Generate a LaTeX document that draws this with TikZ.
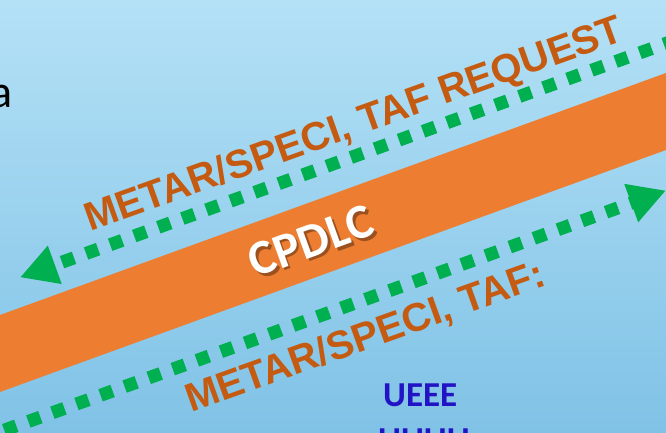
\documentclass[tikz,border=0pt]{standalone}
\usepackage{fontspec}
\setmainfont{Liberation Sans}
\newfontfamily\carlito{Carlito}
\usetikzlibrary{arrows.meta}
\definecolor{bgtop}{RGB}{180,225,246}
\definecolor{bgbot}{RGB}{128,194,230}
\definecolor{bandorange}{HTML}{ED7D31}
\definecolor{txtorange}{HTML}{C55A11}
\definecolor{dotgreen}{HTML}{00B050}
\definecolor{ublue}{RGB}{34,20,196}
\tikzset{
  dotline/.style={draw=dotgreen, line width=13pt, line cap=butt,
    dash pattern=on 12.8pt off 12.8pt,
    -{Triangle[length=37pt,width=38pt]}},
  lbl/.style={font=\bfseries\fontsize{39.8}{40}\selectfont, text=txtorange,
    inner sep=0pt, anchor=base west, rotate=19.7},
  cpd/.style={font=\carlito\bfseries\fontsize{49}{49}\selectfont, inner sep=0pt, rotate=20},
  ucode/.style={font=\carlito\bfseries\fontsize{35}{35}\selectfont, text=ublue,
    inner sep=0pt, anchor=base west}
}
\begin{document}
\begin{tikzpicture}[x=1pt,y=-1pt]
\useasboundingbox (0,0) rectangle (666,433);
\clip (0,0) rectangle (666,433);
\shade[top color=bgtop, bottom color=bgbot] (0,0) rectangle (666,433);
% orange band
\fill[bandorange] (0,315) -- (666,73) -- (666,150) -- (0,392) -- cycle;
% dotted arrows
\coordinate (u0) at (723.9,22.4);
\coordinate (u1) at (20,277.4);
\draw[dotline] (u0) -- (u1);
\coordinate (l0) at (-19.8,438.9);
\coordinate (l1) at (666,190.5);
\draw[dotline] (l0) -- (l1);
% labels
\node[lbl] (t1) at (90,232) {METAR/SPECI, TAF REQUEST};
\node[lbl] (t2) at (191,413) {METAR/SPECI, TAF:};
\node[cpd, text=black, opacity=0.35] (cps) at (313.5,243.5) {CPDLC};
\node[cpd, text=white] (cp) at (311,241) {CPDLC};
% other texts
\node[font=\carlito\fontsize{46}{46}\selectfont, anchor=base east, inner sep=0pt] (a) at (13,107) {a};
\node[ucode] (ue) at (383,406) {UEEE};
\node[ucode] (uu) at (378,451) {UUUU};
\end{tikzpicture}
\end{document}
